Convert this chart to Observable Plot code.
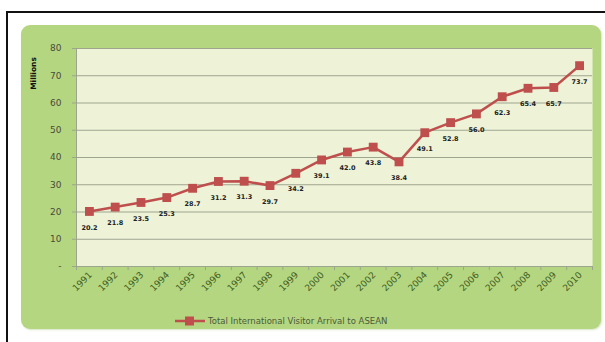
<!DOCTYPE html>
<html><head><meta charset="utf-8">
<script src="https://cdn.jsdelivr.net/npm/d3@7"></script>
<script src="https://cdn.jsdelivr.net/npm/@observablehq/plot@0.6"></script>
<style>
body{margin:0;width:605px;height:342px;overflow:hidden;background:#fff;font-family:"DejaVu Sans",sans-serif;}
#frame{position:absolute;left:6px;top:11px;width:620px;height:360px;border-left:2.5px solid #111;border-top:2.5px solid #111;}
#panel{position:absolute;left:21px;top:25px;width:580px;height:304px;background:#b5d680;border-radius:9px;box-shadow:1px 1px 2px #d8e6c4;}
#chart{position:absolute;left:0;top:0;}
#legend{position:absolute;left:175px;top:313px;height:16px;display:flex;align-items:center;font-family:"DejaVu Sans",sans-serif;font-size:8.5px;color:#4b5a3a;}
#legend svg{margin-right:3px;}
</style></head>
<body>
<div id="frame"></div>
<div id="panel"></div>
<div id="chart"></div>
<div id="legend"></div>
<script>
const years = [1991,1992,1993,1994,1995,1996,1997,1998,1999,2000,2001,2002,2003,2004,2005,2006,2007,2008,2009,2010];
const arrivals = [20.2,21.8,23.5,25.3,28.7,31.2,31.3,29.7,34.2,39.1,42.0,43.8,38.4,49.1,52.8,56.0,62.3,65.4,65.7,73.7];
const yTicks = [0,10,20,30,40,50,60,70,80];
const seriesName = "Total International Visitor Arrival to ASEAN";
const yLabel = "Millions";

const data = years.map((y,i)=>({year:y, value:arrivals[i]}));
const boundaries = d3.range(years[0]-0.5, years[years.length-1]+1, 1);
const red = "#be4f4c";

const chart = Plot.plot({
  width:605, height:342,
  marginLeft:76, marginRight:13, marginTop:48, marginBottom:76,
  style:{background:"transparent", fontFamily:"DejaVu Sans, sans-serif"},
  x:{type:"linear", domain:[years[0]-0.5, years[years.length-1]+0.5]},
  y:{domain:[0,80]},
  marks:[
    Plot.frame({fill:"#eef3d8", stroke:null}),
    Plot.gridY(yTicks.filter(d=>d>0), {stroke:"#9ea58e", strokeOpacity:1, strokeWidth:1}),
    Plot.ruleX([years[0]-0.5], {stroke:"#9ea58e", strokeWidth:1}),
    Plot.ruleY([0], {stroke:"#9ea58e", strokeWidth:1}),
    Plot.axisY(yTicks, {tickSize:4, tickPadding:11, stroke:"#9ea58e", fontSize:9, fill:"#4a4a3a",
      tickFormat:d=>d===0?"-":String(d), label:null}),
    Plot.axisX(boundaries, {tickSize:4, stroke:"#9ea58e", tickFormat:()=>"", label:null}),
    Plot.text(years, {x:d=>d, frameAnchor:"bottom", dy:7, dx:1, rotate:-45, textAnchor:"end", lineAnchor:"middle",
      text:d=>String(d), fontSize:9, fill:"#3f5d1f"}),
    Plot.text([yLabel], {frameAnchor:"top-left", dx:-46, dy:25, rotate:-90, fontSize:7.5, fontWeight:"bold", fill:"#111", textAnchor:"middle"}),
    Plot.line(data, {x:"year", y:"value", stroke:red, strokeWidth:2.5}),
    Plot.dot(data, {x:"year", y:"value", symbol:"square", r:5, fill:red, stroke:null}),
    Plot.text(data, {x:"year", y:"value", text:d=>d.value.toFixed(1), dy:16, fontSize:6.5, fontWeight:"bold", fill:"#222"})
  ]
});
document.getElementById("chart").appendChild(chart);

const leg = document.getElementById("legend");
leg.innerHTML = `<svg width="30" height="12"><line x1="0" x2="30" y1="6" y2="6" stroke="${red}" stroke-width="2.5"/><rect x="10" y="1.5" width="9" height="9" fill="${red}"/></svg><span></span>`;
leg.querySelector("span").textContent = seriesName;
</script>
</body></html>
